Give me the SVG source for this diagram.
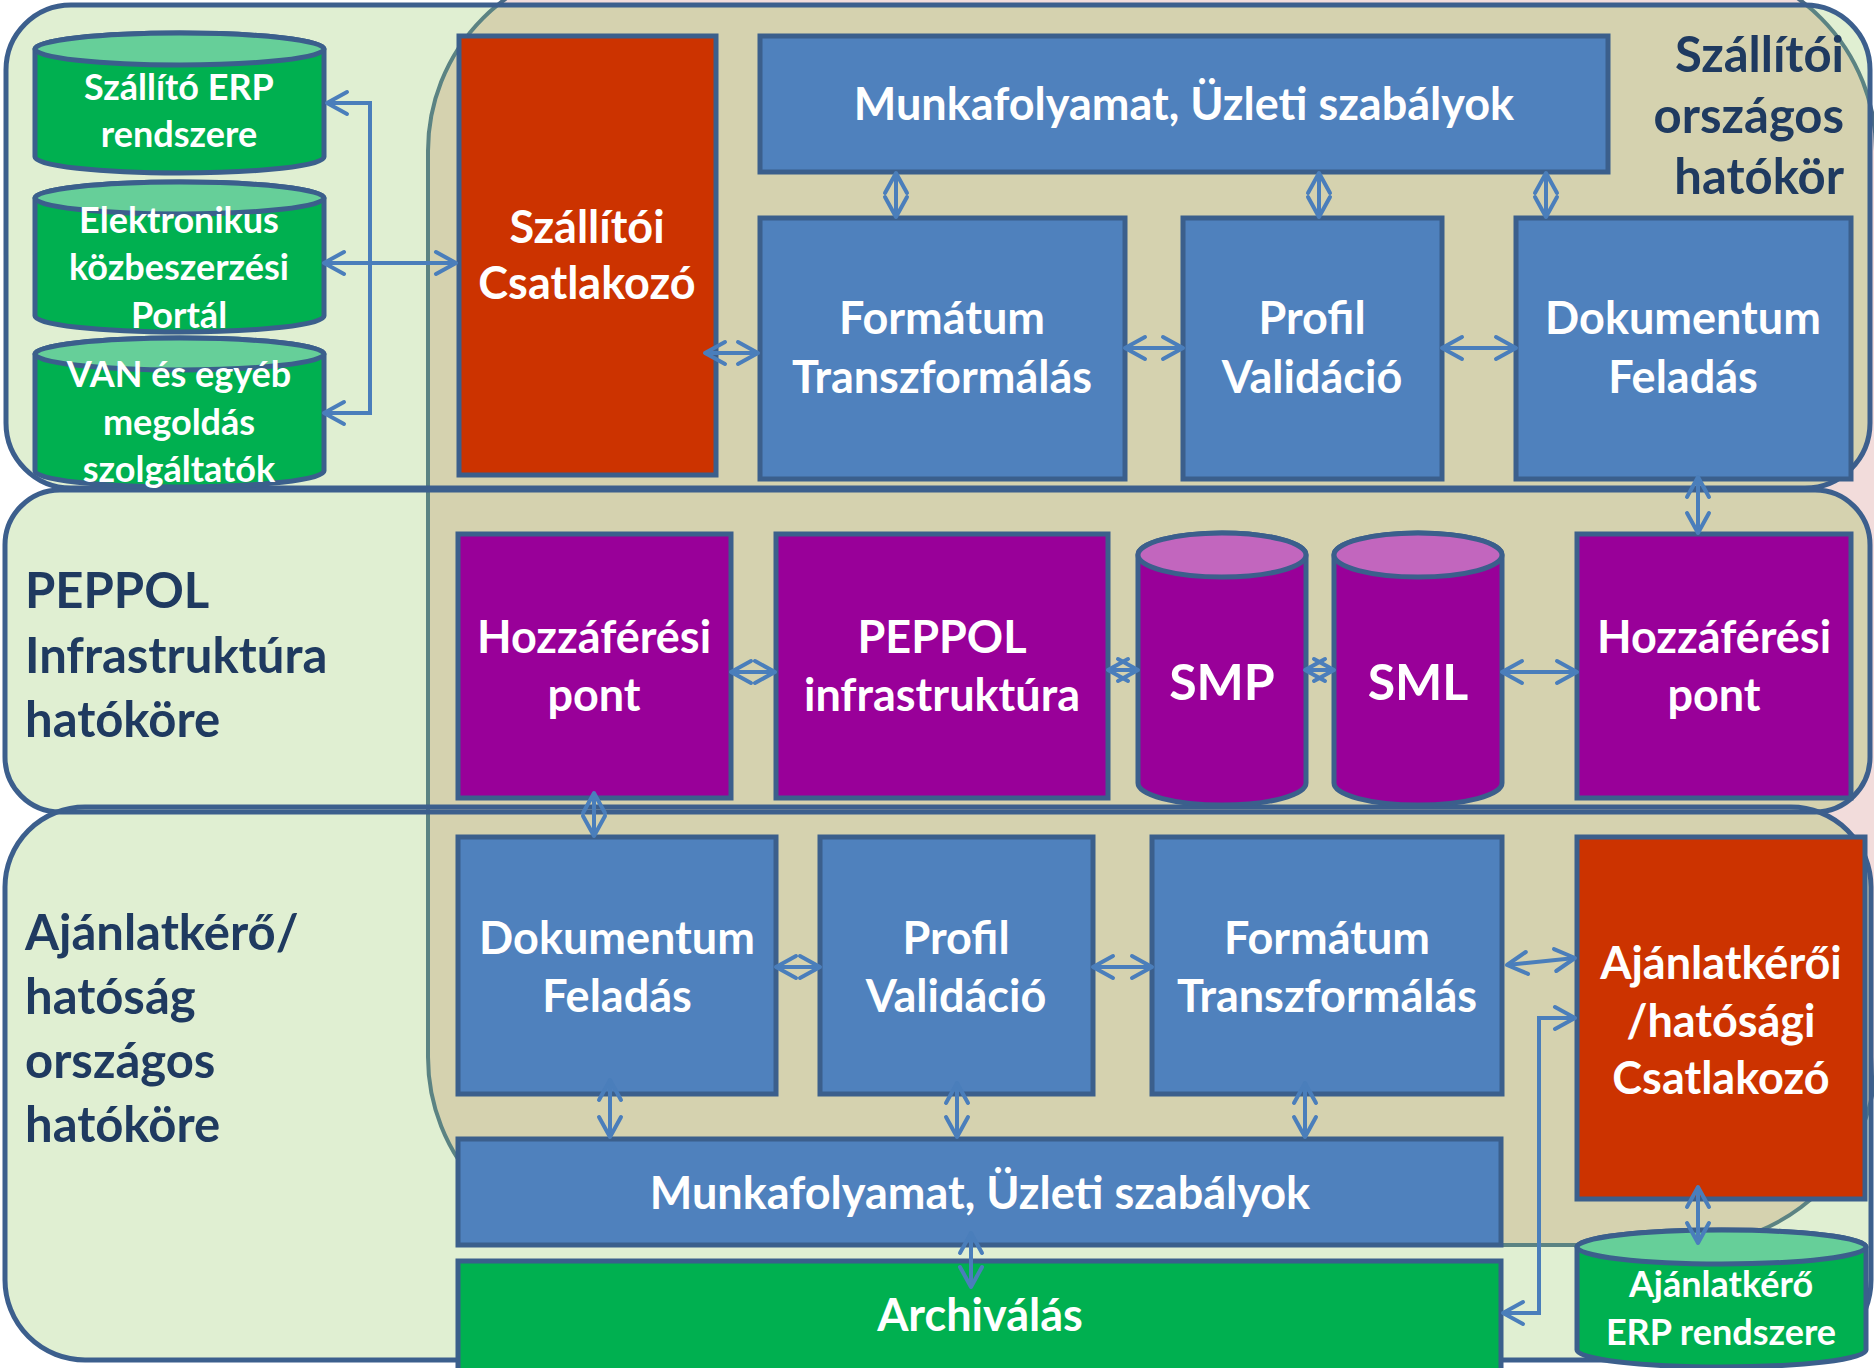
<svg xmlns="http://www.w3.org/2000/svg" width="1874" height="1368" viewBox="0 0 1874 1368">
<style>
.band{fill:#E0EFD2;stroke:none}
.bandline{fill:none;stroke:#3C5F8D;stroke-width:5}
.box{stroke:#3B5F8C;stroke-width:5}
.blue{fill:#4F81BD}
.red{fill:#CC3300}
.purple{fill:#990099}
.green{fill:#00B050}
.ptop{fill:#C266BE}
.gtop{fill:#66CF99}
.t{font-family:Lato,"Open Sans","Liberation Sans",sans-serif;font-weight:700;fill:#FFFFFF;text-anchor:middle}
.bt{font-size:45px}
.ct{font-size:36px}
.st{font-size:50px}
.lb{font-family:Lato,"Open Sans","Liberation Sans",sans-serif;font-weight:700;fill:#1F3A60;font-size:49px}
.conn{fill:none;stroke:#4A7EBB;stroke-width:4;marker-start:url(#ah);marker-end:url(#ah)}
</style>
<defs>
<marker id="ah" viewBox="-26 -15 32 30" markerWidth="32" markerHeight="30" refX="0" refY="0" orient="auto-start-reverse" markerUnits="userSpaceOnUse">
<path d="M-20,-11 L0,0 L-20,11" fill="none" stroke="#4A7EBB" stroke-width="4" stroke-linecap="round" stroke-linejoin="round"/>
</marker>
<clipPath id="bandsClip">
<rect x="6" y="5" width="1864" height="483" rx="65"/>
<rect x="5" y="490" width="1865" height="322" rx="55"/>
<rect x="5" y="807" width="1866" height="553" rx="80"/>
</clipPath>
</defs>
<rect width="1874" height="1368" fill="#FFFFFF"/>
<g id="scope-background">
<rect x="428" y="-37" width="1448" height="1282" rx="188" fill="#F2DCDB" stroke="#4A6A84" stroke-width="4"/>
</g>
<g id="bands">
<rect class="band" x="6" y="5" width="1864" height="483" rx="65"/>
<rect class="band" x="5" y="490" width="1865" height="322" rx="55"/>
<rect class="band" x="5" y="807" width="1866" height="553" rx="80"/>
</g>
<g id="supplier-national-scope" clip-path="url(#bandsClip)">
<rect x="428" y="-37" width="1448" height="1282" rx="188" fill="#D5D2AF" stroke="#5B8383" stroke-width="4"/>
</g>
<g id="band-outlines">
<rect class="bandline" x="6" y="5" width="1864" height="483" rx="65"/>
<rect class="bandline" x="5" y="490" width="1865" height="322" rx="55"/>
<rect class="bandline" x="5" y="807" width="1866" height="553" rx="80"/>
</g>
<g id="label-szallitoi-hatokor">
<text class="lb" text-anchor="end" x="1844" y="72">Szállítói</text>
<text class="lb" text-anchor="end" x="1844" y="133">országos</text>
<text class="lb" text-anchor="end" x="1844" y="194">hatókör</text>
</g>
<g id="label-peppol">
<text class="lb" x="25" y="608">PEPPOL</text>
<text class="lb" x="25" y="673">Infrastruktúra</text>
<text class="lb" x="25" y="737">hatóköre</text>
</g>
<g id="label-ajanlatkero">
<text class="lb" x="25" y="950">Ajánlatkérő/</text>
<text class="lb" x="25" y="1014">hatóság</text>
<text class="lb" x="25" y="1078">országos</text>
<text class="lb" x="25" y="1142">hatóköre</text>
</g>
<g id="cyl-szallito-erp">
<path class="box green" d="M35,49 A144.5,16 0 0 1 324,49 V157 A144.5,16 0 0 1 35,157 Z"/>
<ellipse class="box gtop" cx="179.5" cy="49" rx="144.5" ry="16"/>
<text class="t ct" x="179" y="100">Szállító ERP</text>
<text class="t ct" x="179" y="147">rendszere</text>
</g>
<g id="cyl-ekozbeszerzes">
<path class="box green" d="M35,198 A144.5,16 0 0 1 324,198 V316 A144.5,16 0 0 1 35,316 Z"/>
<ellipse class="box gtop" cx="179.5" cy="198" rx="144.5" ry="16"/>
<text class="t ct" x="179" y="233">Elektronikus</text>
<text class="t ct" x="179" y="280">közbeszerzési</text>
<text class="t ct" x="179" y="328">Portál</text>
</g>
<g id="cyl-van">
<path class="box green" d="M35,354 A144.5,16 0 0 1 324,354 V471 A144.5,16 0 0 1 35,471 Z"/>
<ellipse class="box gtop" cx="179.5" cy="354" rx="144.5" ry="16"/>
<text class="t ct" x="179" y="387">VAN és egyéb</text>
<text class="t ct" x="179" y="435">megoldás</text>
<text class="t ct" x="179" y="482">szolgáltatók</text>
</g>
<g id="szallitoi-csatlakozo">
<rect class="box red" x="459" y="36" width="257" height="439"/>
<text class="t bt" x="587" y="243">Szállítói</text>
<text class="t bt" x="587" y="299">Csatlakozó</text>
</g>
<g id="munkafolyamat-top">
<rect class="box blue" x="760" y="36" width="848" height="136"/>
<text class="t bt" x="1184" y="120">Munkafolyamat, Üzleti szabályok</text>
</g>
<g id="formatum-top">
<rect class="box blue" x="760" y="218" width="365" height="261"/>
<text class="t bt" x="942" y="334">Formátum</text>
<text class="t bt" x="942" y="393">Transzformálás</text>
</g>
<g id="profil-top">
<rect class="box blue" x="1183" y="218" width="259" height="261"/>
<text class="t bt" x="1312" y="334">Profil</text>
<text class="t bt" x="1312" y="393">Validáció</text>
</g>
<g id="dokumentum-top">
<rect class="box blue" x="1516" y="218" width="335" height="261"/>
<text class="t bt" x="1683" y="334">Dokumentum</text>
<text class="t bt" x="1683" y="393">Feladás</text>
</g>
<g id="hozzaferesi-left">
<rect class="box purple" x="458" y="534" width="273" height="264"/>
<text class="t bt" x="594" y="653">Hozzáférési</text>
<text class="t bt" x="594" y="711">pont</text>
</g>
<g id="peppol-infra">
<rect class="box purple" x="776" y="534" width="332" height="264"/>
<text class="t bt" x="942" y="653">PEPPOL</text>
<text class="t bt" x="942" y="711">infrastruktúra</text>
</g>
<g id="smp">
<path class="box purple" d="M1138,555 A84,22 0 0 1 1306,555 V783 A84,22 0 0 1 1138,783 Z"/>
<ellipse class="box ptop" cx="1222" cy="555" rx="84" ry="22"/>
<text class="t st" x="1222" y="700">SMP</text>
</g>
<g id="sml">
<path class="box purple" d="M1334,555 A84,22 0 0 1 1502,555 V783 A84,22 0 0 1 1334,783 Z"/>
<ellipse class="box ptop" cx="1418" cy="555" rx="84" ry="22"/>
<text class="t st" x="1418" y="700">SML</text>
</g>
<g id="hozzaferesi-right">
<rect class="box purple" x="1577" y="534" width="274" height="264"/>
<text class="t bt" x="1714" y="653">Hozzáférési</text>
<text class="t bt" x="1714" y="711">pont</text>
</g>
<g id="dokumentum-bottom">
<rect class="box blue" x="458" y="837" width="318" height="257"/>
<text class="t bt" x="617" y="954">Dokumentum</text>
<text class="t bt" x="617" y="1012">Feladás</text>
</g>
<g id="profil-bottom">
<rect class="box blue" x="820" y="837" width="273" height="257"/>
<text class="t bt" x="956" y="954">Profil</text>
<text class="t bt" x="956" y="1012">Validáció</text>
</g>
<g id="formatum-bottom">
<rect class="box blue" x="1152" y="837" width="350" height="257"/>
<text class="t bt" x="1327" y="954">Formátum</text>
<text class="t bt" x="1327" y="1012">Transzformálás</text>
</g>
<g id="ajanlatkeroi-csatlakozo">
<rect class="box red" x="1577" y="837" width="288" height="362"/>
<text class="t bt" x="1721" y="979">Ajánlatkérői</text>
<text class="t bt" x="1721" y="1037">/hatósági</text>
<text class="t bt" x="1721" y="1094">Csatlakozó</text>
</g>
<g id="munkafolyamat-bottom">
<rect class="box blue" x="458" y="1139" width="1043" height="106"/>
<text class="t bt" x="980" y="1209">Munkafolyamat, Üzleti szabályok</text>
</g>
<g id="archivalas">
<rect class="box green" x="458" y="1261" width="1043" height="110"/>
<text class="t bt" x="980" y="1331">Archiválás</text>
</g>
<g id="cyl-ajanlatkero-erp">
<path class="box green" d="M1577,1247 A144.5,17 0 0 1 1866,1247 V1350 A144.5,17 0 0 1 1577,1350 Z"/>
<ellipse class="box gtop" cx="1721.5" cy="1247" rx="144.5" ry="17"/>
<text class="t ct" x="1721" y="1297">Ajánlatkérő</text>
<text class="t ct" x="1721" y="1345">ERP rendszere</text>
</g>
<g id="connectors">
<path class="conn" d="M327,103 H370 V413 H324"/>
<path class="conn" d="M324,263 H456"/>
<path class="conn" d="M705,353 H758"/>
<path class="conn" d="M1125,348 H1183"/>
<path class="conn" d="M1442,348 H1516"/>
<path class="conn" d="M896,173 V217"/>
<path class="conn" d="M1319,173 V217"/>
<path class="conn" d="M1546,173 V217"/>
<path class="conn" d="M1698,477 V533"/>
<path class="conn" d="M731,672 H775"/>
<path class="conn" d="M1108,670 H1138"/>
<path class="conn" d="M1305,670 H1334"/>
<path class="conn" d="M1502,672 H1577"/>
<path class="conn" d="M594,793 V836"/>
<path class="conn" d="M776,967 H820"/>
<path class="conn" d="M1093,967 H1152"/>
<path class="conn" d="M1507,965 L1575,958"/>
<path class="conn" d="M1503,1313 H1539 V1018 H1575"/>
<path class="conn" d="M610,1080 V1137"/>
<path class="conn" d="M957,1083 V1137"/>
<path class="conn" d="M1305,1083 V1137"/>
<path class="conn" d="M971,1233 V1287"/>
<path class="conn" d="M1698,1187 V1243"/>
</g>
</svg>
